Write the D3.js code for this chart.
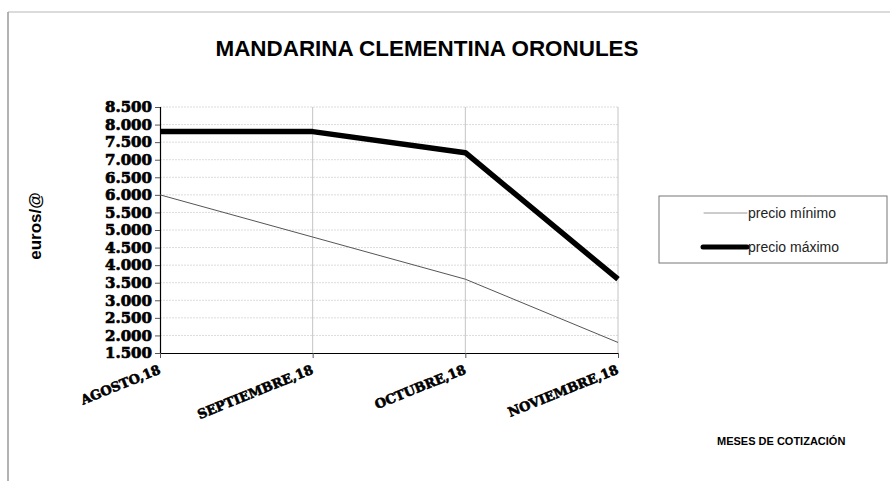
<!DOCTYPE html>
<html>
<head>
<meta charset="utf-8">
<script src="https://cdn.jsdelivr.net/npm/d3@7"></script>
<style>
  body { margin: 0; background: #fff; }
  svg { display: block; }
</style>
</head>
<body>
<div id="chart"></div>
<script>
// chart data
const months = ["AGOSTO,18", "SEPTIEMBRE,18", "OCTUBRE,18", "NOVIEMBRE,18"];
const precioMinimo = [6000, 4800, 3600, 1800];
const precioMaximo = [7800, 7800, 7200, 3600];
const yTicks = [1500, 2000, 2500, 3000, 3500, 4000, 4500, 5000, 5500, 6000, 6500, 7000, 7500, 8000, 8500];

const width = 890, height = 481;
const plot = { left: 160, right: 618, top: 107, bottom: 353 };

const svg = d3.select("#chart").append("svg")
  .attr("width", width)
  .attr("height", height);

// outer frame (top + left edges only visible)
svg.append("line").attr("x1", 8).attr("x2", width).attr("y1", 12).attr("y2", 12)
  .attr("stroke", "#cfcfcf").attr("stroke-width", 1.5);
svg.append("line").attr("x1", 8).attr("x2", 8).attr("y1", 12).attr("y2", height)
  .attr("stroke", "#9a9a9a").attr("stroke-width", 1.5);

const x = d3.scalePoint().domain(months).range([plot.left, plot.right]);
const y = d3.scaleLinear().domain([1500, 8500]).range([plot.bottom, plot.top]);

// horizontal gridlines (dotted)
svg.append("g")
  .selectAll("line")
  .data(yTicks.slice(1))
  .enter().append("line")
  .attr("x1", plot.left).attr("x2", plot.right)
  .attr("y1", d => y(d)).attr("y2", d => y(d))
  .attr("stroke", "#dcdcdc")
  .attr("stroke-dasharray", "2,1");

// vertical gridlines
svg.append("g")
  .selectAll("line")
  .data(months.slice(1))
  .enter().append("line")
  .attr("x1", d => x(d)).attr("x2", d => x(d))
  .attr("y1", plot.top).attr("y2", plot.bottom)
  .attr("stroke", "#c4c4c4");

// y axis
const yAxis = svg.append("g")
  .attr("transform", "translate(" + plot.left + ",0)")
  .call(d3.axisLeft(y).tickValues(yTicks).tickSize(5).tickPadding(3)
    .tickFormat(d => d3.format(",")(d).replace(",", ".")));
yAxis.select(".domain").attr("stroke", "#000").attr("stroke-width", 1.2);
yAxis.selectAll(".tick line").attr("stroke", "#555");
yAxis.selectAll("text")
  .style("font-family", "'DejaVu Serif', serif")
  .style("font-weight", "900")
  .style("font-size", "15px")
  .attr("fill", "#000")
  .attr("stroke", "#000")
  .attr("stroke-width", 0.7);

// x axis
const xAxis = svg.append("g")
  .attr("transform", "translate(0," + plot.bottom + ")")
  .call(d3.axisBottom(x).tickSize(5).tickSizeOuter(0));
xAxis.select(".domain").attr("stroke", "#000").attr("stroke-width", 1.2);
xAxis.selectAll(".tick line").attr("stroke", "#555");
xAxis.selectAll("text")
  .style("font-family", "'DejaVu Serif', serif")
  .style("font-weight", "900")
  .style("font-size", "13px")
  .attr("fill", "#000")
  .attr("stroke", "#000")
  .attr("stroke-width", 0.6)
  .attr("text-anchor", "end")
  .attr("x", 0)
  .attr("y", 0)
  .attr("dy", 0)
  .attr("transform", "translate(1,20) rotate(-22)");

// lines
const line = d3.line()
  .x((d, i) => x(months[i]))
  .y(d => y(d));

svg.append("path")
  .datum(precioMinimo)
  .attr("d", line)
  .attr("fill", "none")
  .attr("stroke", "#555")
  .attr("stroke-width", 1);

svg.append("path")
  .datum(precioMaximo)
  .attr("d", line)
  .attr("fill", "none")
  .attr("stroke", "#000")
  .attr("stroke-width", 5.5)
  .attr("stroke-linejoin", "round");

// title
svg.append("text")
  .attr("x", 427).attr("y", 56)
  .attr("text-anchor", "middle")
  .attr("textLength", 423)
  .attr("lengthAdjust", "spacingAndGlyphs")
  .style("font-family", "'Liberation Sans', Arial, sans-serif")
  .style("font-weight", "bold")
  .style("font-size", "22px")
  .text("MANDARINA CLEMENTINA ORONULES");

// y axis title
svg.append("text")
  .attr("transform", "translate(41,226) rotate(-90)")
  .attr("text-anchor", "middle")
  .style("font-family", "'Liberation Sans', Arial, sans-serif")
  .style("font-weight", "bold")
  .style("font-size", "17px")
  .text("euros/@");

// x axis title
svg.append("text")
  .attr("x", 717).attr("y", 445)
  .style("font-family", "'Liberation Sans', Arial, sans-serif")
  .style("font-weight", "bold")
  .style("font-size", "11px")
  .text("MESES DE COTIZACIÓN");

// legend
const legend = svg.append("g");
legend.append("rect")
  .attr("x", 659).attr("y", 196)
  .attr("width", 228).attr("height", 67)
  .attr("fill", "#fff")
  .attr("stroke", "#777")
  .attr("stroke-width", 1);

const legendItems = [
  { label: "precio mínimo", color: "#999", width: 1, y: 213, x1: 704 },
  { label: "precio máximo", color: "#000", width: 5, y: 247, x1: 703 }
];
legendItems.forEach(item => {
  legend.append("line")
    .attr("x1", item.x1).attr("x2", 747)
    .attr("y1", item.y).attr("y2", item.y)
    .attr("stroke", item.color)
    .attr("stroke-width", item.width)
    .attr("stroke-linecap", "round");
  legend.append("text")
    .attr("x", 748).attr("y", item.y + 5)
    .attr("fill", "#222")
    .style("font-family", "'Liberation Sans', Arial, sans-serif")
    .style("font-size", "14px")
    .text(item.label);
});
</script>
</body>
</html>
